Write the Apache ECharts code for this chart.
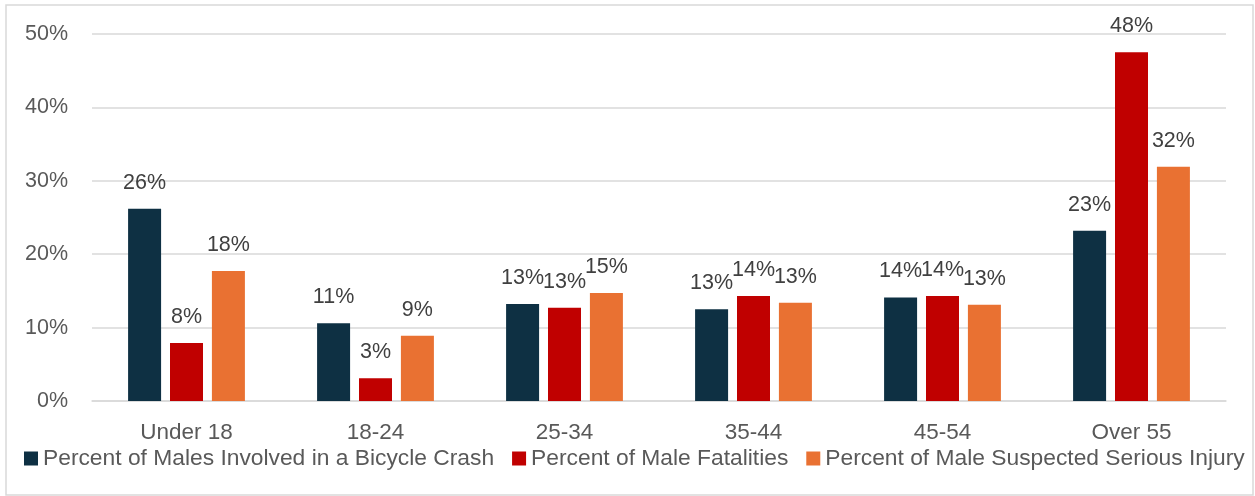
<!DOCTYPE html>
<html>
<head>
<meta charset="utf-8">
<script src="https://cdn.jsdelivr.net/npm/echarts@6/dist/echarts.min.js"></script>
<style>html,body{margin:0;padding:0;background:#fff}#c{width:1255px;height:496px}</style>
</head>
<body>
<div id="c"></div>
<script>
var categories = ['Under 18', '18-24', '25-34', '35-44', '45-54', 'Over 55'];
var seriesNames = ['Percent of Males Involved in a Bicycle Crash', 'Percent of Male Fatalities', 'Percent of Male Suspected Serious Injury'];
var crashValues = [26.2, 10.6, 13.2, 12.5, 14.1, 23.2];
var fatalityValues = [7.9, 3.1, 12.7, 14.3, 14.3, 47.5];
var injuryValues = [17.7, 8.9, 14.7, 13.4, 13.1, 31.9];
var yTicks = [0, 10, 20, 30, 40, 50];

var colors = ['#0E3043', '#C00000', '#E97132'];
var font = '"Liberation Sans", Arial, sans-serif';

function mk(name, data, color) {
  return {
    name: name, type: 'bar', data: data, barWidth: 33, barGap: '27%',
    itemStyle: { color: color },
    label: { show: true, position: 'top', distance: 15, color: '#404040', fontSize: 21.5, fontFamily: font,
      formatter: function (p) { return Math.round(p.value) + '%'; } }
  };
}

var chart = echarts.init(document.getElementById('c'));
chart.setOption({
  animation: false,
  color: colors,
  grid: { left: 92, right: 29, top: 34, bottom: 95 },
  graphic: [{ type: 'rect', shape: { x: 6, y: 5, width: 1247, height: 490 }, style: { fill: 'none', stroke: '#d9d9d9', lineWidth: 1.5 } }],
  legend: {
    bottom: 26, left: 24, padding: 0, itemWidth: 14, itemHeight: 14, itemGap: 18, icon: 'rect',
    textStyle: { color: '#595959', fontSize: 22.8, fontFamily: font },
    data: seriesNames
  },
  xAxis: {
    type: 'category', data: categories,
    axisLine: { lineStyle: { color: '#d9d9d9', width: 1.5 } },
    axisTick: { show: false },
    axisLabel: { color: '#595959', fontSize: 22.5, fontFamily: font, margin: 20 }
  },
  yAxis: {
    type: 'value', min: yTicks[0], max: yTicks[yTicks.length - 1], interval: 10,
    axisLine: { show: false }, axisTick: { show: false },
    splitLine: { lineStyle: { color: '#d9d9d9', width: 1.5 } },
    axisLabel: { color: '#595959', fontSize: 21.5, fontFamily: font, margin: 24, formatter: '{value}%' }
  },
  series: [mk(seriesNames[0], crashValues, colors[0]), mk(seriesNames[1], fatalityValues, colors[1]), mk(seriesNames[2], injuryValues, colors[2])]
});
</script>
</body>
</html>
